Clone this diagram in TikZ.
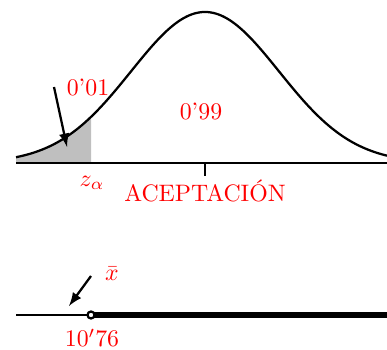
\documentclass[tikz,border=0pt]{standalone}
\begin{document}
\begin{tikzpicture}[x=0.42pt,y=0.42pt,every node/.style={text=red},line width=0.95pt]
\useasboundingbox (0,0) rectangle (387,349);
% normal curve with the left tail shaded
\fill[gray!50] (16,186) -- plot[domain=16:91,samples=40] (\x,{186+151*exp(-0.5*((\x-205)/74)^2)}) -- (91,186) -- cycle;
\draw plot[domain=16:387,samples=140,smooth] (\x,{186+151*exp(-0.5*((\x-205)/74)^2)});
\coordinate (axl) at (16,186); \coordinate (axr) at (387,186);
\coordinate (mu) at (205,186); \coordinate (mub) at (205,173);
\draw (axl) -- (axr);
\draw (mu) -- (mub);
\node (p1) at (88,261) {0'01};
\node (p99) at (201,237) {0'99};
\node (za) at (92,166) {$z_\alpha$};
\node (acep) at (205,158) {ACEPTACIÓN};
\coordinate (a1) at (54,262); \coordinate (a2) at (67,202);
\draw[-latex] (a1) -- (a2);
% sample mean on the line
\coordinate (bl) at (16,34); \coordinate (xm) at (91,34); \coordinate (br) at (387,34);
\draw (bl) -- (xm);
\draw[line width=2.2pt] (xm) -- (br);
\draw[fill=white] (xm) circle (3.5);
\node (val) at (92,11) {$10'76$};
\node (xbar) at (112,75) {$\bar{x}$};
\coordinate (b1) at (91,73); \coordinate (b2) at (69,43);
\draw[-latex] (b1) -- (b2);
\end{tikzpicture}
\end{document}
